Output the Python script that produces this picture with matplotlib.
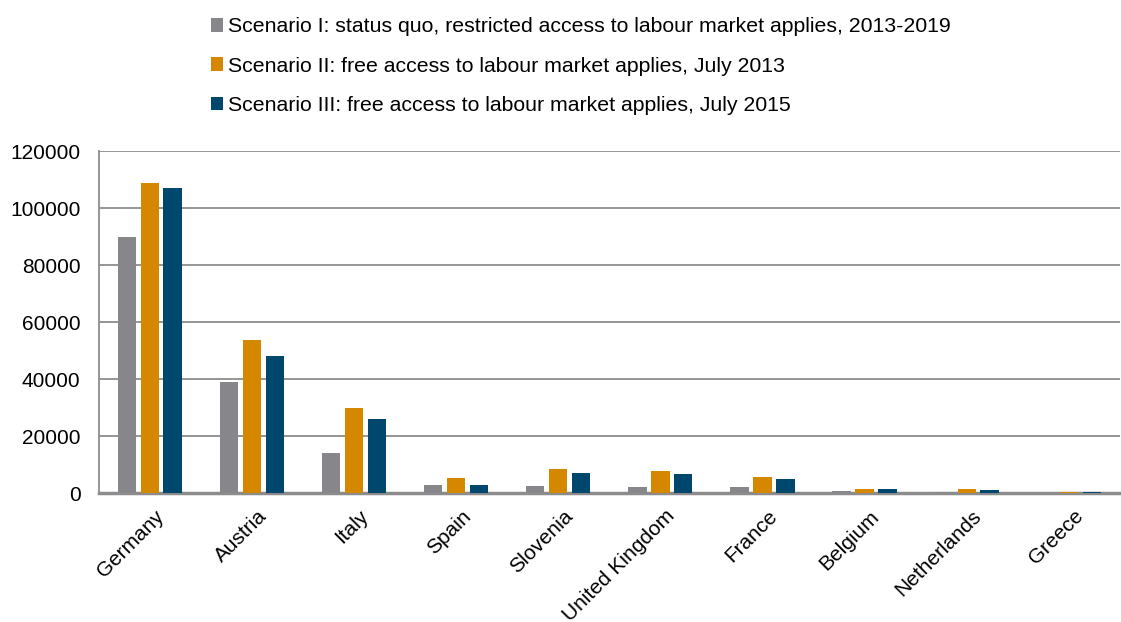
import matplotlib
matplotlib.use("Agg")
import matplotlib.pyplot as plt
import matplotlib.transforms as mtransforms
import numpy as np

countries = ["Germany", "Austria", "Italy", "Spain", "Slovenia",
             "United Kingdom", "France", "Belgium", "Netherlands", "Greece"]
scenario1 = [90000, 39000, 14000, 2900, 2700, 2100, 2300, 800, 500, 0]
scenario2 = [109000, 53700, 29800, 5400, 8400, 7900, 5800, 1600, 1400, 500]
scenario3 = [107000, 48000, 26000, 2900, 7000, 6700, 5000, 1400, 1200, 500]
labels = ["Scenario I: status quo, restricted access to labour market applies, 2013-2019",
          "Scenario II: free access to labour market applies, July 2013",
          "Scenario III: free access to labour market applies, July 2015"]
colors = ["#87868b", "#d68700", "#00476e"]

plt.rcParams['font.family'] = ['Liberation Sans', 'DejaVu Sans']

fig = plt.figure(figsize=(11.21, 6.22), dpi=100)
ax = fig.add_axes([0.088, 0.207, 0.911, 0.55])

x = np.arange(len(countries))
w = 0.18
step = 0.225
for i, (vals, lab, col) in enumerate(zip([scenario1, scenario2, scenario3], labels, colors)):
    ax.bar(x + (i - 1) * step, vals, width=w, color=col, label=lab, zorder=3)

ax.set_xlim(-0.5, len(countries) - 0.5)
ax.set_ylim(0, 120000)
ax.set_yticks(range(0, 120001, 20000))
ax.yaxis.grid(True, color="#8c8c8c", linewidth=1.3, zorder=0)
ax.set_xticks(x)
ax.set_xticklabels(countries, rotation=45, ha="right", rotation_mode="anchor", fontsize=15)
ax.tick_params(axis="y", labelsize=15, length=0, pad=13)
ax.tick_params(axis="x", length=0, pad=6)
shift = mtransforms.ScaledTranslation(5 / 100, -5 / 100, fig.dpi_scale_trans)
for t in ax.get_xticklabels():
    t.set_transform(t.get_transform() + shift)
for s in ["top", "right"]:
    ax.spines[s].set_visible(False)
ax.spines["left"].set_color("#8c8c8c")
ax.spines["left"].set_linewidth(1.3)
ax.spines["bottom"].set_color("#8c8c8c")
ax.spines["bottom"].set_linewidth(2.5)

fig.legend(loc="upper left", bbox_to_anchor=(0.188, 0.972), frameon=False,
           fontsize=15.3, handlelength=0.6, handleheight=0.6, handletextpad=0.2,
           labelspacing=0.95, borderpad=0, borderaxespad=0)

fig.savefig("out.png", dpi=100)
